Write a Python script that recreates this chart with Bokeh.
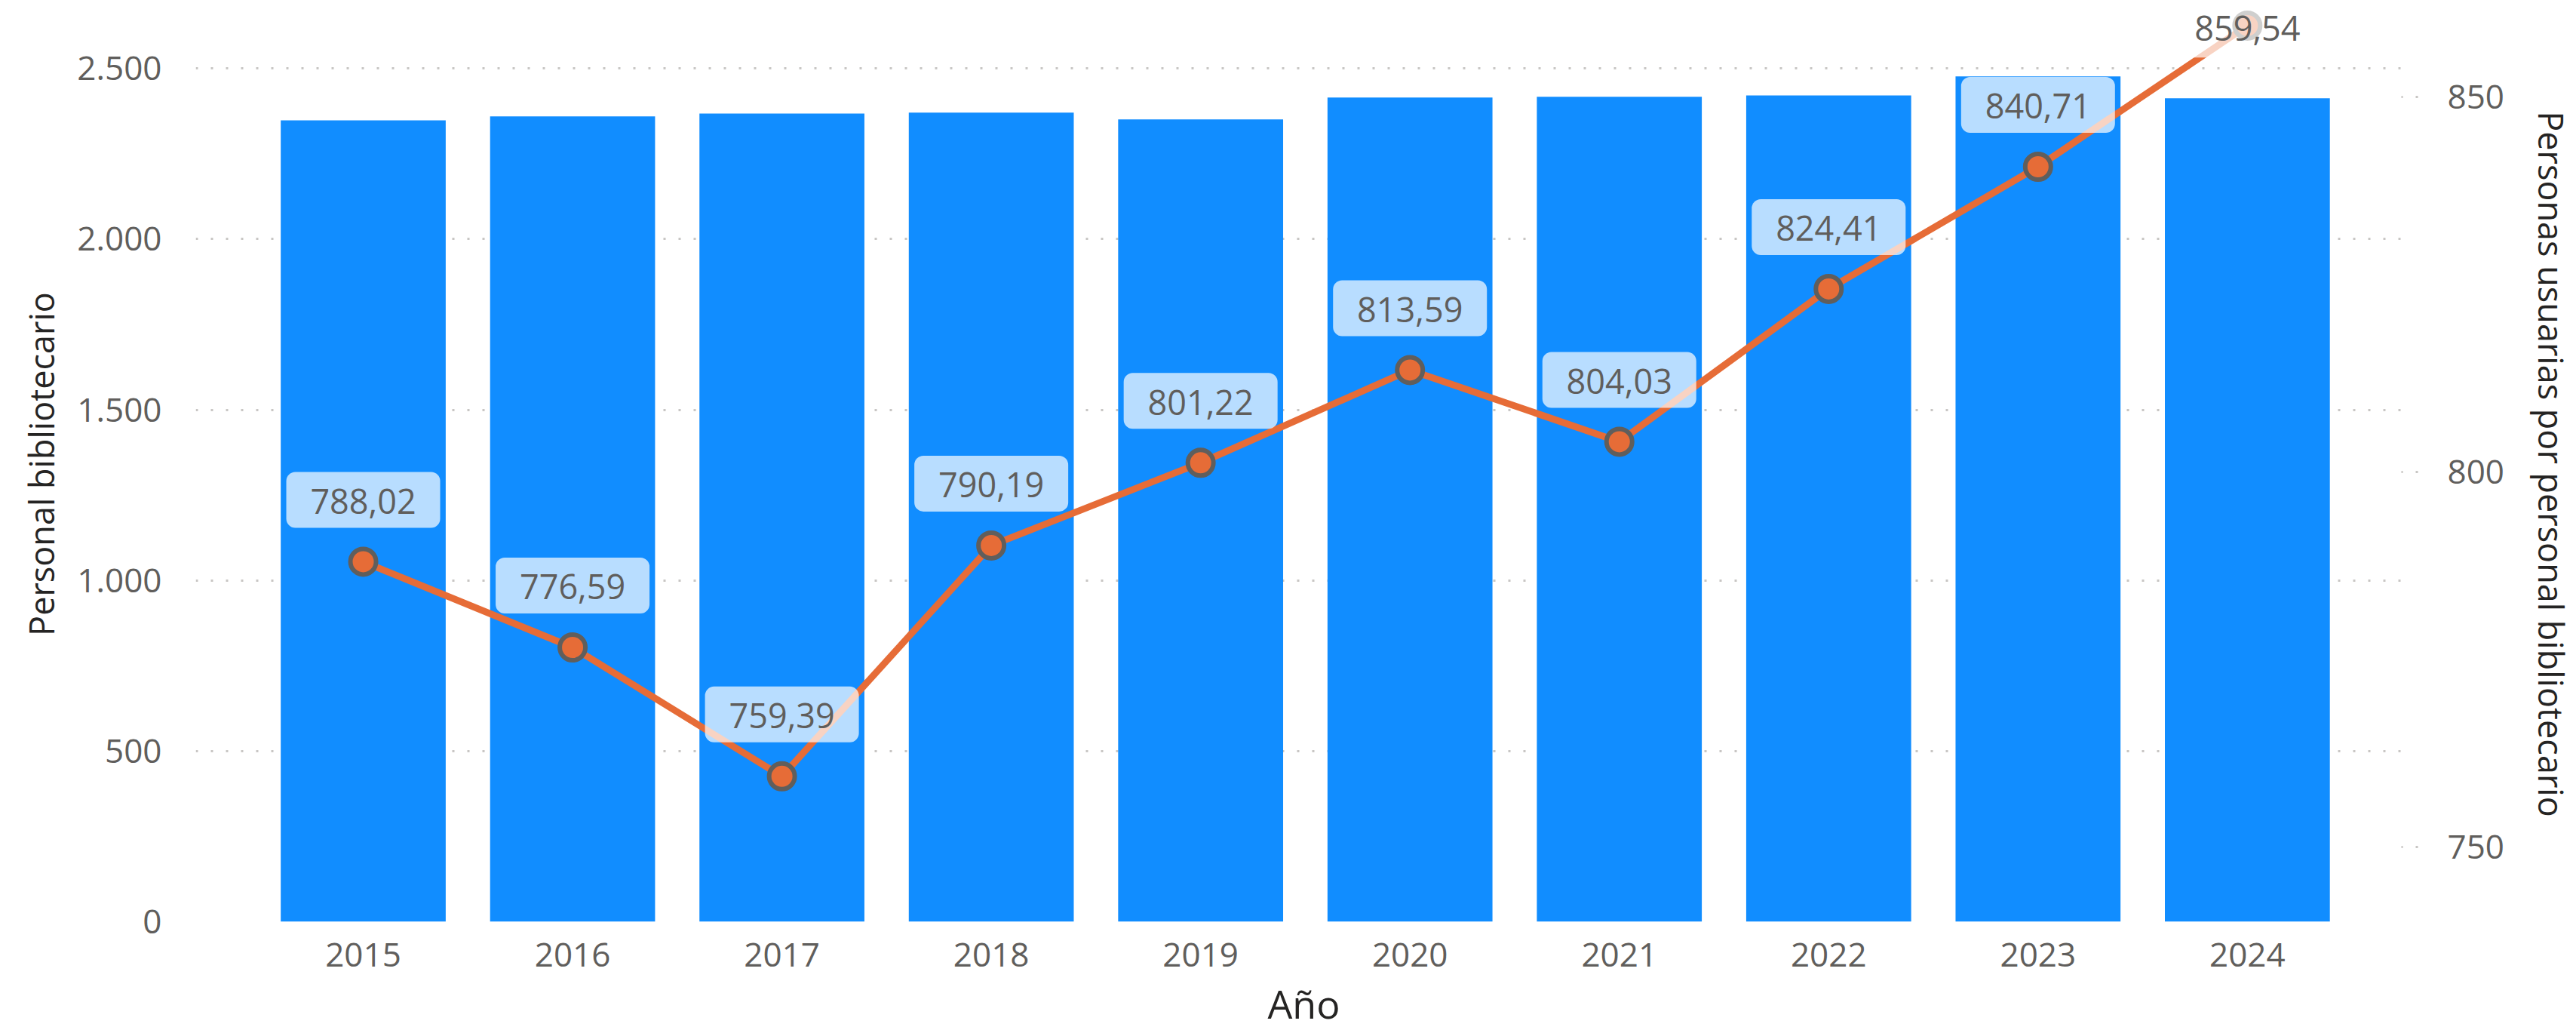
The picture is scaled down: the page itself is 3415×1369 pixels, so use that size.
from bokeh.plotting import figure
from bokeh.models import Range1d, LinearAxis, FixedTicker, ColumnDataSource, BoxAnnotation
from bokeh.embed import file_html
from bokeh.resources import INLINE
from bokeh.core.properties import value

# ---------------- data ----------------
years = [2015, 2016, 2017, 2018, 2019, 2020, 2021, 2022, 2023, 2024]
year_labels = ["2015", "2016", "2017", "2018", "2019", "2020", "2021", "2022", "2023", "2024"]
personal = [2348, 2360, 2368, 2371, 2351, 2415, 2417, 2421, 2477, 2413]
ratio = [788.02, 776.59, 759.39, 790.19, 801.22, 813.59, 804.03, 824.41, 840.71, 859.54]

left_ticks = [0, 500, 1000, 1500, 2000, 2500]
left_tick_labels = ["0", "500", "1.000", "1.500", "2.000", "2.500"]
right_ticks = [750, 800, 850]
right_tick_labels = ["750", "800", "850"]

# axis extents (visible canvas) and the nominal plot-area top of the source chart
LEFT_MIN, LEFT_VIEW_MAX, LEFT_AXIS_MAX = 0, 2682, 2532
RIGHT_MIN, RIGHT_VIEW_MAX, RIGHT_AXIS_MAX = 740, 862.1, 855.3
X_START, X_END = 2014.2, 2024.786

W, H = 3415, 1369
BORDER_L, BORDER_R, BORDER_T, BORDER_B = 259, 213, 8, 148
FRAME_H = H - BORDER_T - BORDER_B
LABEL_LIFT_PX = 82
LABEL_BOX_W, LABEL_BOX_H = 204, 74

BAR_COLOR = "#118DFF"
LINE_COLOR = "#E66C37"
MARKER_EDGE = "#605E5C"
TICK_COLOR = "#605E5C"
TITLE_COLOR = "#252423"
GRID_COLOR = "#C8C6C4"
FONT = "Open Sans"

def fmt(v):
    return f"{v:.2f}".replace(".", ",")

p = figure(width=W, height=H, output_backend="svg", toolbar_location=None,
           x_range=Range1d(X_START, X_END), y_range=Range1d(LEFT_MIN, LEFT_VIEW_MAX),
           min_border_left=BORDER_L, min_border_right=BORDER_R,
           min_border_top=BORDER_T, min_border_bottom=BORDER_B)
p.outline_line_color = None
p.background_fill_color = "white"
p.border_fill_color = "white"
p.extra_y_ranges = {"r": Range1d(RIGHT_MIN, RIGHT_VIEW_MAX)}

# bars
bar_src = ColumnDataSource(dict(x=years, top=personal))
p.vbar(x="x", top="top", width=0.788, bottom=0, source=bar_src,
       fill_color=BAR_COLOR, line_color=None)

# line + markers
line_src = ColumnDataSource(dict(x=years, y=ratio))
p.line(x="x", y="y", source=line_src, y_range_name="r", line_color=LINE_COLOR, line_width=9)
p.scatter(x="x", y="y", source=line_src, y_range_name="r", size=34,
          fill_color=LINE_COLOR, line_color=MARKER_EDGE, line_width=6)

# data labels
px_per_unit = FRAME_H / (RIGHT_VIEW_MAX - RIGHT_MIN)
lift = LABEL_LIFT_PX / px_per_unit
inside_x, inside_y, inside_t = [], [], []
over_x, over_y, over_t = [], [], []
for x, v in zip(years, ratio):
    if v > RIGHT_AXIS_MAX:
        over_x.append(x); over_y.append(v); over_t.append(fmt(v))
    else:
        inside_x.append(x); inside_y.append(v + lift); inside_t.append(fmt(v))

lab_src = ColumnDataSource(dict(x=inside_x, y=inside_y, t=inside_t))
box_kw = dict(x="x", y="y", width=LABEL_BOX_W, height=LABEL_BOX_H,
              width_units="screen", height_units="screen", source=lab_src,
              y_range_name="r", fill_color="white", fill_alpha=0.7, line_color=None)
try:
    p.rect(border_radius=12, **box_kw)
except Exception:
    p.rect(**box_kw)
p.text(x="x", y="y", text="t", source=lab_src, y_range_name="r",
       text_font=value(FONT), text_font_size=value("45px"), text_color=TICK_COLOR,
       text_align="center", text_baseline="middle", y_offset=2)

# overflow fade above the nominal plot area
p.add_layout(BoxAnnotation(bottom=LEFT_AXIS_MAX, fill_color="white", fill_alpha=0.7,
                           line_alpha=0, level="annotation"))

over_src = ColumnDataSource(dict(x=over_x, y=over_y, t=over_t))
r_over = p.text(x="x", y="y", text="t", source=over_src, y_range_name="r",
                text_font=value(FONT), text_font_size=value("45px"), text_color=TICK_COLOR,
                text_align="center", text_baseline="middle", y_offset=4)
r_over.level = "overlay"

# left axis
ya = p.yaxis[0]
ya.ticker = FixedTicker(ticks=left_ticks)
ya.major_label_overrides = {t: l for t, l in zip(left_ticks, left_tick_labels)}
ya.axis_line_color = None
ya.major_tick_line_color = None
ya.minor_tick_line_color = None
ya.major_label_standoff = 39
ya.major_label_text_font = FONT
ya.major_label_text_font_size = "44px"
ya.major_label_text_color = TICK_COLOR
ya.axis_label = "Personal bibliotecario"
ya.axis_label_text_font = FONT
ya.axis_label_text_font_size = "45px"
ya.axis_label_text_font_style = "normal"
ya.axis_label_text_color = TITLE_COLOR
ya.axis_label_standoff = 14

# right axis
ra = LinearAxis(y_range_name="r", ticker=FixedTicker(ticks=right_ticks))
ra.major_label_overrides = {t: l for t, l in zip(right_ticks, right_tick_labels)}
ra.axis_line_color = None
ra.minor_tick_line_color = None
ra.major_tick_line_color = GRID_COLOR
ra.major_tick_line_width = 3
ra.major_tick_line_dash = "3 17"
ra.major_tick_in = 14
ra.major_tick_out = 8
ra.major_label_standoff = 39
ra.major_label_text_font = FONT
ra.major_label_text_font_size = "44px"
ra.major_label_text_color = TICK_COLOR
ra.axis_label = "Personas usuarias por personal bibliotecario"
ra.axis_label_text_font = FONT
ra.axis_label_text_font_size = "45px"
ra.axis_label_text_font_style = "normal"
ra.axis_label_text_color = TITLE_COLOR
ra.axis_label_standoff = 29
p.add_layout(ra, "right")

# bottom axis
xa = p.xaxis[0]
xa.ticker = FixedTicker(ticks=years)
xa.major_label_overrides = {y: l for y, l in zip(years, year_labels)}
xa.axis_line_color = None
xa.major_tick_line_color = None
xa.minor_tick_line_color = None
xa.major_label_standoff = 22
xa.major_label_text_font = FONT
xa.major_label_text_font_size = "44px"
xa.major_label_text_color = TICK_COLOR
xa.axis_label = "Año"
xa.axis_label_text_font = FONT
xa.axis_label_text_font_size = "52px"
xa.axis_label_text_font_style = "normal"
xa.axis_label_text_color = TITLE_COLOR
xa.axis_label_standoff = 10

# grids
p.xgrid.grid_line_color = None
p.ygrid.grid_line_color = GRID_COLOR
p.ygrid.grid_line_width = 3
p.ygrid.grid_line_dash = "3 17"

open("out.html", "w").write(file_html(p, INLINE))
